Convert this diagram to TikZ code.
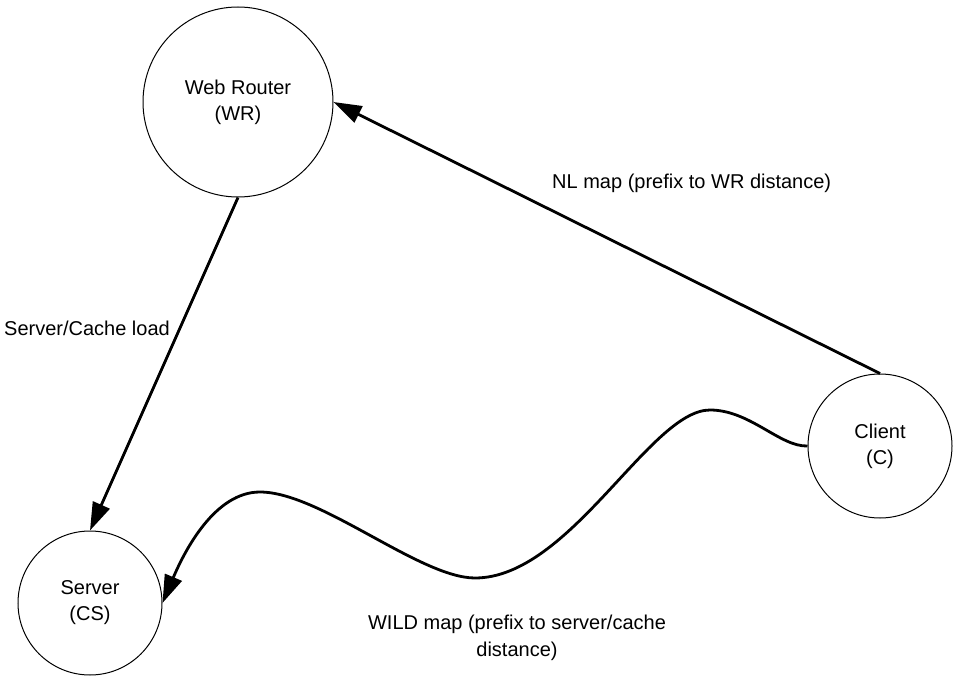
\documentclass[tikz,border=0pt]{standalone}
\usepackage{fontspec}
\setmainfont{Liberation Sans}
\usetikzlibrary{arrows.meta}
\begin{document}
\begin{tikzpicture}[x=1pt,y=-1pt,
  station/.style={circle,draw,line width=1pt,inner sep=0pt,align=center,font=\fontsize{20}{26}\selectfont},
  flow/.style={line width=2.8pt,-{Triangle[length=28pt,width=18pt]}},
  lbl/.style={inner sep=0pt,align=center,font=\fontsize{20}{27}\selectfont}]
\useasboundingbox (0,0) rectangle (954,679);
\node[station,minimum size=190pt] (WR) at (238,102) {Web Router\\(WR)};
\node[station,minimum size=144pt] (C) at (880,446) {Client\\(C)};
\node[station,minimum size=144pt] (CS) at (90,603) {Server\\(CS)};
\draw[flow] (WR.south) -- (CS.north);
\draw[flow] (C.north) -- (WR.east);
\coordinate (p1) at (710,410);
\coordinate (p2) at (475,578);
\coordinate (p3) at (260,492);
\draw[flow] (C.west) .. controls (780,447) and (750,410) .. (p1)
  .. controls (650,410) and (570,578) .. (p2)
  .. controls (420,578) and (320,492) .. (p3)
  .. controls (215,492) and (185,550) .. (CS.east);
\node[lbl,anchor=west] (nl) at (552,183) {NL map (prefix to WR distance)};
\node[lbl,anchor=west] (sc) at (4,328) {Server/Cache load};
\node[lbl] (wild) at (517,638) {WILD map (prefix to server/cache\\distance)};
\end{tikzpicture}
\end{document}
